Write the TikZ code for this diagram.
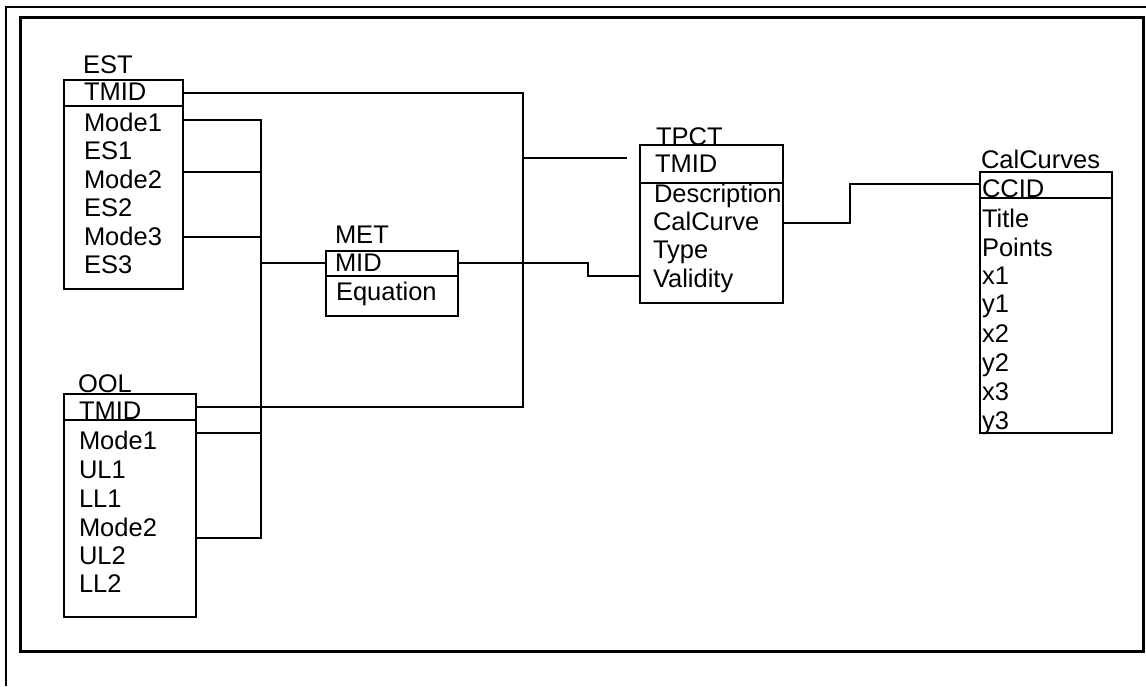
\documentclass[tikz,border=0pt]{standalone}
\usepackage{fontspec}
\setmainfont{Liberation Sans}
\begin{document}
\begin{tikzpicture}[x=1pt,y=-1pt,
  tbl/.style={draw,line width=2.8pt,anchor=north west,inner sep=0pt,outer sep=0pt},
  div/.style={line width=2.8pt},
  fld/.style={anchor=base west,inner sep=0pt,outer sep=0pt,font=\fontsize{25.5}{28}\selectfont},
  con/.style={line width=2.4pt},
  frm/.style={line width=3pt}]
\useasboundingbox (0,0) rectangle (1146,686);
% frames
\draw[line width=2.4pt] (6,686) -- (6,7) -- (1146,7);
\draw[frm] (20,17) rectangle (1143,651);

% tables
\node[tbl,minimum width=119pt,minimum height=209pt] (est) at (64,80) {};
\draw[div] (est.west |- 0,106) -- (est.east |- 0,106);
\node[tbl,minimum width=132pt,minimum height=223pt] (ool) at (64,394) {};
\draw[div] (ool.west |- 0,420) -- (ool.east |- 0,420);
\node[tbl,minimum width=132pt,minimum height=65pt] (met) at (326,251) {};
\draw[div] (met.west |- 0,276) -- (met.east |- 0,276);
\node[tbl,minimum width=143pt,minimum height=158pt] (tpct) at (640,145) {};
\draw[div] (tpct.west |- 0,183) -- (tpct.east |- 0,183);
\node[tbl,minimum width=132pt,minimum height=261pt] (cal) at (980,172) {};
\draw[div] (cal.west |- 0,198) -- (cal.east |- 0,198);

% EST texts
\node[fld] (estT) at (83,73) {EST};
\node[fld] (est0) at (84,100) {TMID};
\node[fld] (est1) at (84,131) {Mode1};
\node[fld] (est2) at (84,159) {ES1};
\node[fld] (est3) at (84,188) {Mode2};
\node[fld] (est4) at (84,216) {ES2};
\node[fld] (est5) at (84,245) {Mode3};
\node[fld] (est6) at (84,273) {ES3};

% OOL texts
\node[fld] (oolT) at (78,392) {OOL};
\node[fld] (ool0) at (79,419) {TMID};
\node[fld] (ool1) at (79,449) {Mode1};
\node[fld] (ool2) at (79,478) {UL1};
\node[fld] (ool3) at (79,507) {LL1};
\node[fld] (ool4) at (79,536) {Mode2};
\node[fld] (ool5) at (79,564) {UL2};
\node[fld] (ool6) at (79,592) {LL2};

% MET texts
\node[fld] (metT) at (335,243) {MET};
\node[fld] (met0) at (335,271) {MID};
\node[fld] (met1) at (336,300) {Equation};

% TPCT texts
\node[fld] (tpctT) at (656,145) {TPCT};
\node[fld] (tpct0) at (655,172) {TMID};
\node[fld] (tpct1) at (654,202) {Description};
\node[fld] (tpct2) at (653,230) {CalCurve};
\node[fld] (tpct3) at (653,258) {Type};
\node[fld] (tpct4) at (653,287) {Validity};

% CalCurves texts
\node[fld] (calT) at (981,168) {CalCurves};
\node[fld] (cal0) at (982,197) {CCID};
\node[fld] (cal1) at (982,227) {Title};
\node[fld] (cal2) at (982,256) {Points};
\node[fld] (cal3) at (982,284) {x1};
\node[fld] (cal4) at (982,312) {y1};
\node[fld] (cal5) at (982,342) {x2};
\node[fld] (cal6) at (982,371) {y2};
\node[fld] (cal7) at (982,400) {x3};
\node[fld] (cal8) at (982,429) {y3};

% junction coordinates
\coordinate (jA) at (523,93);
\coordinate (jB) at (523,407);
\coordinate (jC) at (523,158);
\coordinate (tEnd) at (627,158);
\coordinate (bTop) at (261,120);
\coordinate (bBot) at (261,538);
\coordinate (bM2) at (261,172);
\coordinate (bM3) at (261,237);
\coordinate (bO1) at (261,433);
\coordinate (bMet) at (261,263);
\coordinate (mA) at (588,263);
\coordinate (mB) at (588,276);
\coordinate (cA) at (850,223);
\coordinate (cB) at (850,184);

% connectors
\draw[con] (est.east |- jA) -- (jA) -- (jB) -- (ool.east |- jB);
\draw[con] (jC) -- (tEnd);
\draw[con] (est.east |- bTop) -- (bTop) -- (bBot) -- (ool.east |- bBot);
\draw[con] (est.east |- bM2) -- (bM2);
\draw[con] (est.east |- bM3) -- (bM3);
\draw[con] (ool.east |- bO1) -- (bO1);
\draw[con] (bMet) -- (met.west |- bMet);
\draw[con] (met.east |- mA) -- (mA) -- (mB) -- (tpct.west |- mB);
\draw[con] (tpct.east |- cA) -- (cA) -- (cB) -- (cal.west |- cB);
\end{tikzpicture}
\end{document}
